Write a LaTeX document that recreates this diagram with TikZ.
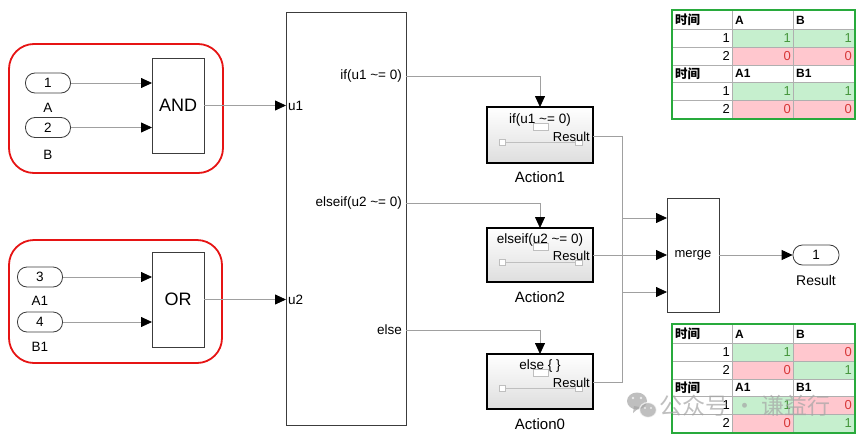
\documentclass[tikz,border=0pt]{standalone}
\usepackage{fontspec}
\setmainfont{Liberation Sans}
\newfontfamily\cjk{Noto Sans CJK SC}
\usetikzlibrary{arrows.meta}
\definecolor{wirec}{RGB}{160,160,160}
\definecolor{blkc}{RGB}{60,60,60}
\definecolor{grpred}{RGB}{230,20,20}
\definecolor{tgreenf}{RGB}{198,239,206}
\definecolor{tredf}{RGB}{255,199,206}
\definecolor{tgreent}{RGB}{70,150,60}
\definecolor{tredt}{RGB}{215,55,55}
\definecolor{tborder}{RGB}{40,170,60}
\definecolor{tgrid}{RGB}{175,175,175}
\definecolor{wmark}{RGB}{165,165,165}
\newcommand{\fs}[1]{\fontsize{#1}{#1}\selectfont}
% cell: name, x0, y0, x1, y1, fill, text colour, value
\newcommand{\tcell}[8]{%
  \fill[#6] (#2,#3) rectangle (#4,#5);
  \node[tnum,text=#7,anchor=east] (#1) at ({#4-2},{(#3+#5)/2}) {#8};}
\begin{document}
\begin{tikzpicture}[x=1pt,y=-1pt,
  wire/.style={draw=wirec,line width=0.8pt},
  arr/.style={wire,-{Triangle[length=11pt,width=10pt,color=black]}},
  blk/.style={draw=blkc,line width=0.8pt,fill=white,inner sep=0,outer sep=0},
  pill/.style={draw=blkc,line width=0.8pt,rounded corners=9.5pt,minimum width=45pt,minimum height=20pt,inner sep=0,fill=white,font=\fs{13.5}},
  act/.style={draw=black,line width=2pt,top color=white,bottom color=black!13,inner sep=0,outer sep=0,minimum width=106pt},
  grp/.style={draw=grpred,line width=1.8pt,rounded corners=25pt,inner sep=0},
  lbl/.style={inner sep=1pt,font=\fs{13.5}},
  biglbl/.style={inner sep=1pt,font=\fs{15}},
  tiny/.style={draw=black!25,line width=0.5pt,fill=white},
  tnum/.style={inner sep=0,font=\fs{13}},
  thead/.style={inner sep=0,anchor=west,font=\fs{12}\bfseries},
]
\useasboundingbox (0,0) rectangle (864,439);
\fill[white] (0,0) rectangle (864,439);

% ---------- red groups ----------
\node[grp,minimum width=214pt,minimum height=129pt] (g1) at (116,108.5) {};
\node[grp,minimum width=213pt,minimum height=123pt] (g2) at (115.5,301.5) {};

% ---------- inports ----------
\node[pill] (in1) at (48,83) {1};
\node[lbl] (lA) at (48,108) {A};
\node[pill] (in2) at (48,127.5) {2};
\node[lbl] (lB) at (48,155) {B};
\node[pill] (in3) at (40,277) {3};
\node[lbl] (lA1) at (40,301) {A1};
\node[pill] (in4) at (40,322) {4};
\node[lbl] (lB1) at (40,347) {B1};

% ---------- logic blocks ----------
\node[blk,minimum width=52pt,minimum height=95pt,font=\fs{18}] (and) at (178,105.5) {AND};
\node[blk,minimum width=52pt,minimum height=95pt,font=\fs{18}] (or) at (178,299.5) {OR};

% ---------- if block ----------
\node[blk,minimum width=120pt,minimum height=413pt] (sw) at (346,218.5) {};
\node[lbl,anchor=west] (u1) at ([xshift=1pt]sw.west |- and.east) {u1};
\node[lbl,anchor=west] (u2) at ([xshift=1pt]sw.west |- or.east) {u2};
\node[lbl,anchor=east] (o1) at (403,76) {if(u1 \textasciitilde= 0)};
\node[lbl,anchor=east] (o2) at (403,203) {elseif(u2 \textasciitilde= 0)};
\node[lbl,anchor=east] (o3) at (403,330) {else};

% ---------- action subsystems ----------
\node[act,minimum height=56pt] (a1) at (540,135) {};
\node[act,minimum height=54pt] (a2) at (540,255) {};
\node[act,minimum height=55pt] (a0) at (540,381.5) {};
\foreach \n/\yy in {a1/135,a2/255,a0/381.5}{
  \draw[black!25,line width=0.6pt] (502,\yy+7) -- (578,\yy+7);
  \draw[tiny] (499,\yy+4) rectangle (505,\yy+10);
  \draw[tiny] (575,\yy+5) rectangle (582,\yy+10);
  \draw[tiny] (533,\yy-12) rectangle (548,\yy-5);
}
\node[lbl] (t1) at (540,120) {if(u1 \textasciitilde= 0)};
\node[lbl,anchor=east,font=\fs{13}] (r1) at (591,137) {Result};
\node[lbl] (t2) at (540,240) {elseif(u2 \textasciitilde= 0)};
\node[lbl,anchor=east,font=\fs{13}] (r2) at (591,256) {Result};
\node[lbl] (t0) at (540,366) {else \{ \}};
\node[lbl,anchor=east,font=\fs{13}] (r0) at (591,383) {Result};
\node[biglbl] (la1) at (540,177) {Action1};
\node[biglbl] (la2) at (540,297) {Action2};
\node[biglbl] (la0) at (540,424) {Action0};

% ---------- merge and outport ----------
\node[blk,minimum width=52pt,minimum height=114pt,font=\fs{13}] (mg) at (693,255) {merge};
\coordinate (m1) at ([yshift=-37pt]mg.west);
\coordinate (m3) at ([yshift=37pt]mg.west);
\node[pill,minimum width=46pt] (out) at (816,255) {1};
\node[biglbl,font=\fs{14}] (lres) at (816,280) {Result};

% ---------- connectors ----------
\draw[arr] (in1.east) -- (in1.east -| and.west);
\draw[arr] (in2.east) -- (in2.east -| and.west);
\draw[arr] (in3.east) -- (in3.east -| or.west);
\draw[arr] (in4.east) -- (in4.east -| or.west);
\draw[arr] (and.east) -- (and.east -| sw.west);
\draw[arr] (or.east) -- (or.east -| sw.west);
\draw[arr] (sw.east |- o1.east) -| (a1.north);
\draw[arr] (sw.east |- o2.east) -| (a2.north);
\draw[arr] (sw.east |- o3.east) -| (a0.north);
\draw[arr] (a1.east |- 0,136) -- (622,136) |- (m1);
\draw[arr] (a2.east) -- (mg.west);
\draw[arr] (a0.east |- 0,382) -- (622,382) |- (m3);
\draw[arr] (mg.east) -- (out.west);

% ---------- tables ----------
\foreach \oy/\tag in {11/T, 325/U}{
  \begin{scope}[yshift=-\oy pt]
    \fill[white] (673,0) rectangle (854,107);
    \foreach \ya/\yb/\n in {18/36/1, 71/89/1, 36/54/2, 89/107/2}{
      \node[tnum,anchor=east] (\tag n\ya) at (730,{(\ya+\yb)/2}) {\n};
    }
  \end{scope}
}
% top table
\begin{scope}[yshift=-11pt]
  \tcell{Ta1}{732}{18}{793}{36}{tgreenf}{tgreent}{1}
  \tcell{Tb1}{793}{18}{854}{36}{tgreenf}{tgreent}{1}
  \tcell{Ta2}{732}{36}{793}{54}{tredf}{tredt}{0}
  \tcell{Tb2}{793}{36}{854}{54}{tredf}{tredt}{0}
  \tcell{Tc1}{732}{71}{793}{89}{tgreenf}{tgreent}{1}
  \tcell{Td1}{793}{71}{854}{89}{tgreenf}{tgreent}{1}
  \tcell{Tc2}{732}{89}{793}{107}{tredf}{tredt}{0}
  \tcell{Td2}{793}{89}{854}{107}{tredf}{tredt}{0}
  \node[thead,font=\fs{12.5}\cjk\bfseries] (Th1) at (675,9) {时间};
  \node[thead] (ThA) at (735,9) {A};
  \node[thead] (ThB) at (796,9) {B};
  \node[thead,font=\fs{12.5}\cjk\bfseries] (Th2) at (675,62.5) {时间};
  \node[thead] (ThA1) at (735,62.5) {A1};
  \node[thead] (ThB1) at (796,62.5) {B1};
  \foreach \yy in {18,36,54,71,89}{\draw[tgrid,line width=0.6pt] (673,\yy) -- (854,\yy);}
  \draw[tgrid,line width=0.6pt] (732,0) -- (732,107);
  \draw[tgrid,line width=0.6pt] (793,0) -- (793,107);
  \draw[tborder,line width=2.4pt] (672,-1) rectangle (855,108);
\end{scope}
% bottom table
\begin{scope}[yshift=-325pt]
  \tcell{Ua1}{732}{18}{793}{36}{tgreenf}{tgreent}{1}
  \tcell{Ub1}{793}{18}{854}{36}{tredf}{tredt}{0}
  \tcell{Ua2}{732}{36}{793}{54}{tredf}{tredt}{0}
  \tcell{Ub2}{793}{36}{854}{54}{tgreenf}{tgreent}{1}
  \tcell{Uc1}{732}{71}{793}{89}{tgreenf}{tgreent}{1}
  \tcell{Ud1}{793}{71}{854}{89}{tredf}{tredt}{0}
  \tcell{Uc2}{732}{89}{793}{107}{tredf}{tredt}{0}
  \tcell{Ud2}{793}{89}{854}{107}{tgreenf}{tgreent}{1}
  \node[thead,font=\fs{12.5}\cjk\bfseries] (Uh1) at (675,9) {时间};
  \node[thead] (UhA) at (735,9) {A};
  \node[thead] (UhB) at (796,9) {B};
  \node[thead,font=\fs{12.5}\cjk\bfseries] (Uh2) at (675,62.5) {时间};
  \node[thead] (UhA1) at (735,62.5) {A1};
  \node[thead] (UhB1) at (796,62.5) {B1};
  \foreach \yy in {18,36,54,71,89}{\draw[tgrid,line width=0.6pt] (673,\yy) -- (854,\yy);}
  \draw[tgrid,line width=0.6pt] (732,0) -- (732,107);
  \draw[tgrid,line width=0.6pt] (793,0) -- (793,107);
  \draw[tborder,line width=2.4pt] (672,-1) rectangle (855,108);
\end{scope}

% ---------- watermark ----------
\begin{scope}[opacity=0.7]
  \fill[wmark] (637,401) circle[x radius=10pt,y radius=8.5pt];
  \fill[wmark] (640,407) -- (633,413) -- (634,406) -- cycle;
  \draw[white,fill=wmark,line width=1.2pt] (648,410) circle[x radius=8.5pt,y radius=7.5pt];
  \fill[white] (633,398) circle (1.3pt) (641,398) circle (1.3pt) (645,408) circle (1.1pt) (651,408) circle (1.1pt);
  \node[inner sep=0,anchor=west,text=wmark,font=\fs{23}\cjk] (wm) at (659,406) {公众号 · 谦益行};
\end{scope}
\end{tikzpicture}
\end{document}
